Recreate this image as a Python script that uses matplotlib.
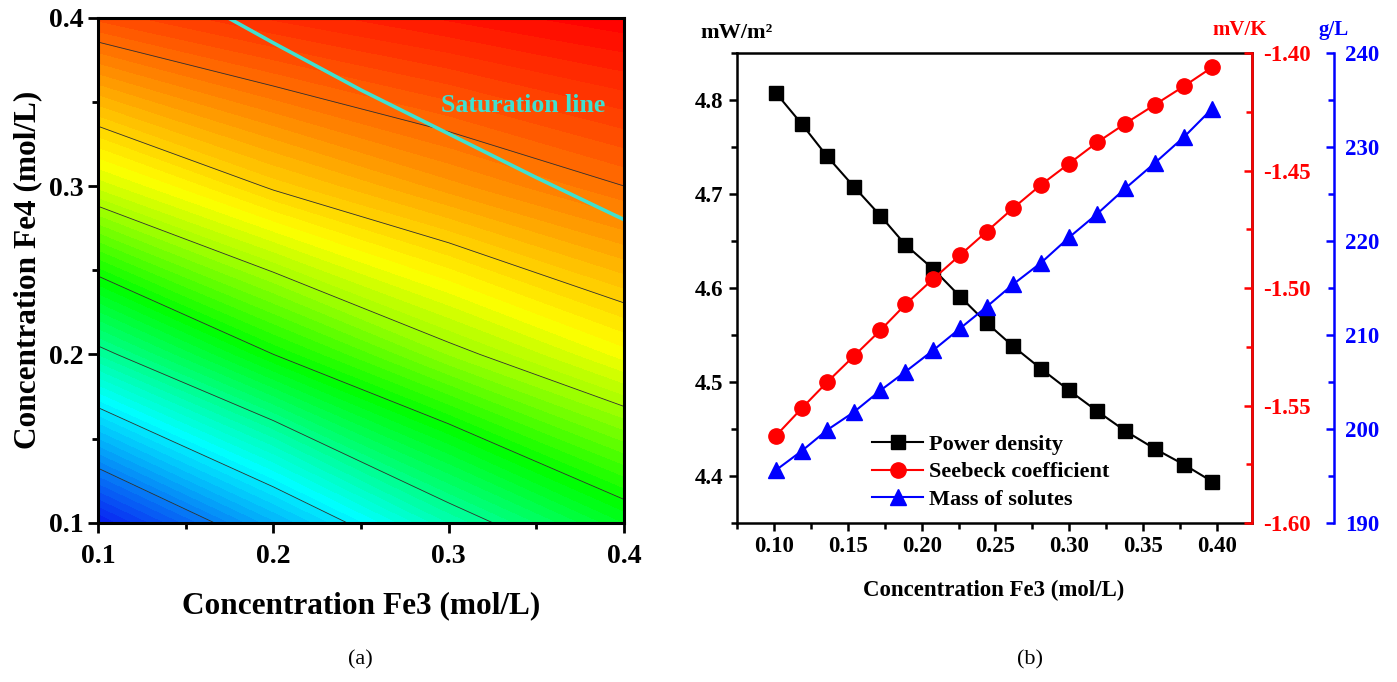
import numpy as np
import matplotlib
matplotlib.use("Agg")
import matplotlib.pyplot as plt
from matplotlib.colors import LinearSegmentedColormap
from matplotlib.ticker import MultipleLocator

plt.rcParams['font.family'] = ['Liberation Serif', 'DejaVu Serif']
plt.rcParams['font.weight'] = 'bold'
plt.rcParams['axes.labelweight'] = 'bold'

# (a) contour map over Fe3 / Fe4 concentrations
fe3_grid = [0.1, 0.2, 0.3, 0.4]
fe4_grid = [0.1, 0.2, 0.3, 0.4]
z_grid = [[0.10, 1.46, 2.75, 3.75],
          [2.88, 4.00, 4.88, 5.56],
          [5.29, 6.05, 6.57, 7.00],
          [7.29, 7.65, 7.90, 8.10]]
line_levels = [1, 2, 3, 4, 5, 6, 7]

# saturation boundary
sat_fe3 = [0.174, 0.20, 0.25, 0.30, 0.35, 0.40]
sat_fe4 = [0.400, 0.385, 0.357, 0.331, 0.305, 0.280]

# (b) sweep over Fe3
fe3 = [0.101, 0.119, 0.136, 0.154, 0.172, 0.189, 0.208, 0.226, 0.244,
       0.262, 0.281, 0.300, 0.319, 0.338, 0.358, 0.378, 0.397]
power = [4.808, 4.774, 4.740, 4.708, 4.677, 4.646, 4.620, 4.591, 4.563,
         4.538, 4.514, 4.491, 4.469, 4.448, 4.429, 4.412, 4.394]
seebeck = [-1.563, -1.551, -1.540, -1.529, -1.518, -1.507, -1.496, -1.486, -1.476,
           -1.466, -1.456, -1.447, -1.438, -1.430, -1.422, -1.414, -1.406]
mass = [195.6, 197.7, 199.9, 201.8, 204.1, 206.1, 208.4, 210.7, 213.0,
        215.4, 217.7, 220.4, 222.9, 225.6, 228.3, 231.1, 234.1]

rainbow = LinearSegmentedColormap.from_list(
    'rainbow_o', [(0.0, '#0a14f0'), (0.27, '#00ffff'), (0.49, '#00ff00'),
                  (0.69, '#ffff00'), (1.0, '#ff0000')])

fig = plt.figure(figsize=(13.97, 6.82), dpi=100)

# ---- left panel
ax1 = fig.add_axes([0.0702, 0.2336, 0.3765, 0.7405])
fill_levels = np.arange(0, 8.26, 0.125)
ax1.contourf(fe3_grid, fe4_grid, z_grid, levels=fill_levels, cmap=rainbow,
             vmin=0, vmax=8.1)
ax1.contour(fe3_grid, fe4_grid, z_grid, levels=line_levels, colors='#303030',
            linewidths=0.6)
ax1.plot(sat_fe3, sat_fe4, color='#40e0d0', lw=2.6)
ax1.text(0.389, 0.348, 'Saturation line', color='#40e0d0', fontsize=18.5,
         ha='right', va='center')
ax1.set_xlim(0.1, 0.4)
ax1.set_ylim(0.1, 0.4)
ax1.set_xticks([0.1, 0.2, 0.3, 0.4])
ax1.set_yticks([0.1, 0.2, 0.3, 0.4])
ax1.xaxis.set_minor_locator(MultipleLocator(0.05))
ax1.yaxis.set_minor_locator(MultipleLocator(0.05))
ax1.tick_params(which='major', direction='out', length=7, width=2, labelsize=20)
ax1.tick_params(axis='x', which='major', pad=8)
ax1.tick_params(which='minor', direction='out', length=4, width=2)
for s in ax1.spines.values():
    s.set_linewidth(2.2)
ax1.set_xlabel('Concentration Fe3 (mol/L)', fontsize=22.5, labelpad=16)
ax1.set_ylabel('Concentration Fe4 (mol/L)', fontsize=22.5, labelpad=5)

# ---- right panel
ax2 = fig.add_axes([0.5273, 0.2331, 0.3686, 0.6891])
ax3 = ax2.twinx()
ax4 = ax2.twinx()
ax4.spines['right'].set_position(('axes', 1.16))

l1, = ax2.plot(fe3, power, color='black', marker='s', ms=10.5, lw=1.5,
               label='Power density')
l2, = ax3.plot(fe3, seebeck, color='red', marker='o', ms=11, lw=1.5,
               label='Seebeck coefficient')
l3, = ax4.plot(fe3, mass, color='blue', marker='^', ms=11.5, lw=1.5,
               label='Mass of solutes')

ax2.set_xlim(0.0746, 0.4236)
ax2.set_ylim(4.35, 4.85)
ax3.set_ylim(-1.60, -1.40)
ax4.set_ylim(190, 240)

ax2.xaxis.set_major_locator(MultipleLocator(0.05))
ax2.xaxis.set_minor_locator(MultipleLocator(0.025))
ax2.set_yticks([4.4, 4.5, 4.6, 4.7, 4.8])
ax2.yaxis.set_minor_locator(MultipleLocator(0.05))
ax2.xaxis.set_major_formatter(plt.FormatStrFormatter('%.2f'))
ax3.yaxis.set_major_locator(MultipleLocator(0.05))
ax3.yaxis.set_minor_locator(MultipleLocator(0.025))
ax3.yaxis.set_major_formatter(plt.FormatStrFormatter('%.2f'))
ax4.yaxis.set_major_locator(MultipleLocator(10))
ax4.yaxis.set_minor_locator(MultipleLocator(5))

ax2.tick_params(which='major', direction='out', length=6, width=1.8, labelsize=16.5)
ax2.tick_params(which='minor', direction='out', length=4, width=1.8)
ax3.tick_params(which='major', direction='in', length=6, width=1.8, labelsize=16.5,
                colors='red', pad=8)
ax3.tick_params(which='minor', direction='in', length=4, width=1.8, colors='red')
ax4.tick_params(which='major', direction='in', length=6, width=1.8, labelsize=16.5,
                colors='blue', pad=8)
ax4.tick_params(which='minor', direction='in', length=4, width=1.8, colors='blue')

for s in ax2.spines.values():
    s.set_linewidth(1.8)
ax3.spines['right'].set_color('red')
ax3.spines['right'].set_linewidth(1.8)
ax4.spines['right'].set_color('blue')
ax4.spines['right'].set_linewidth(1.8)
for ax in (ax3, ax4):
    for side in ('left', 'top', 'bottom'):
        ax.spines[side].set_visible(False)

ax2.set_xlabel('Concentration Fe3 (mol/L)', fontsize=16.5, labelpad=16)

fig.text(737 / 1397, 1 - 33 / 682, 'mW/m²', fontsize=16, ha='center', va='center')
fig.text(1240 / 1397, 1 - 30 / 682, 'mV/K', fontsize=15, ha='center', va='center',
         color='red')
fig.text(1334 / 1397, 1 - 30 / 682, 'g/L', fontsize=15, ha='center', va='center',
         color='blue')

ax4.legend(handles=[l1, l2, l3], loc='center left', frameon=False, fontsize=16,
           bbox_to_anchor=(872 / 1397, 1 - 472 / 682), bbox_transform=fig.transFigure,
           borderpad=0, borderaxespad=0, handlelength=2.3, handletextpad=0.25,
           labelspacing=0.3)

fig.text(360 / 1397, 1 - 660 / 682, '(a)', fontsize=16, fontweight='normal',
         ha='center', va='center')
fig.text(1030 / 1397, 1 - 660 / 682, '(b)', fontsize=16, fontweight='normal',
         ha='center', va='center')

fig.savefig('out.png', dpi=100)
